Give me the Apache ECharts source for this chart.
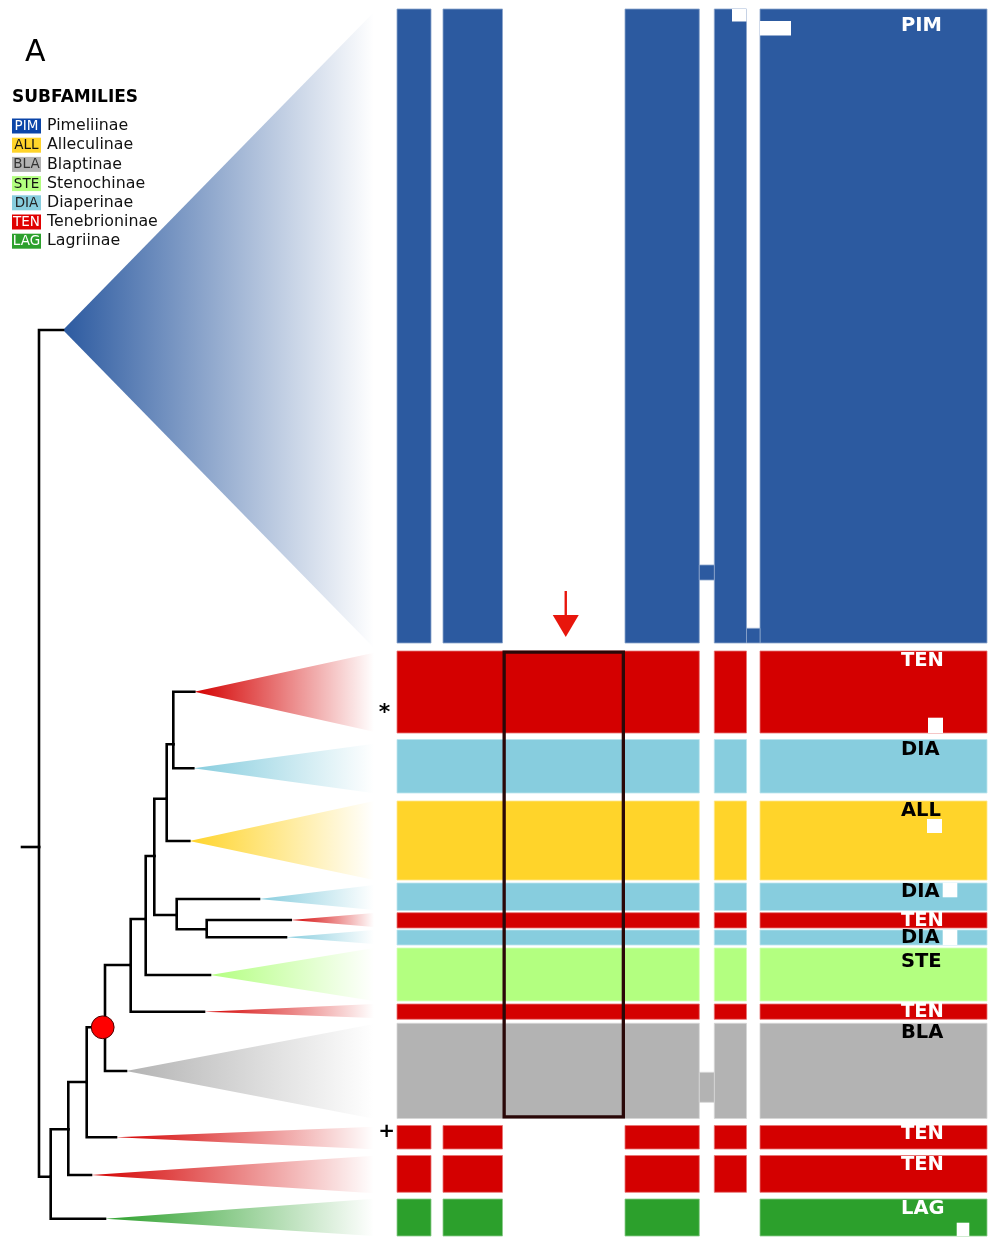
<!DOCTYPE html>
<html>
<head>
<meta charset="utf-8">
<script src="https://cdn.jsdelivr.net/npm/echarts@6/dist/echarts.min.js"></script>
<style>
  html, body { margin: 0; padding: 0; background: #ffffff; }
  #chart { width: 990px; height: 1237px; }
</style>
</head>
<body>
<div id="chart"></div>
<script>
// ---------------- data ----------------
// Subfamily legend
const subfamilyCodes = ['PIM', 'ALL', 'BLA', 'STE', 'DIA', 'TEN', 'LAG'];
const subfamilyNames = ['Pimeliinae', 'Alleculinae', 'Blaptinae', 'Stenochinae', 'Diaperinae', 'Tenebrioninae', 'Lagriinae'];

// Collapsed clades, top to bottom
const cladeCodes = ['PIM', 'TEN', 'DIA', 'ALL', 'DIA', 'TEN', 'DIA', 'STE', 'TEN', 'BLA', 'TEN', 'TEN', 'LAG'];
// Clade tip position (branch depth, vertical position)
const tipDepth = [63, 194.3, 193.3, 189.3, 259, 290.7, 286, 210, 204, 126, 116, 91, 105];
const tipY = [330, 691.7, 768.3, 841, 899, 920, 937.3, 975, 1011.7, 1071, 1137.3, 1175, 1218.7];
// Vertical extent of each collapsed clade (triangle base)
const spanTop = [12, 652.7, 743.7, 801, 885, 913, 930, 948, 1004, 1024, 1126.7, 1155.7, 1198.7];
const spanBottom = [648, 731.7, 793.3, 880, 910, 927, 944, 1001, 1018, 1118.7, 1149.3, 1193.3, 1236];
// Parent node of each clade
const tipParent = ['n0', 'n11', 'n11', 'n9', 'n8', 'n10', 'n10', 'n6', 'n5', 'n4', 'n3', 'n2', 'n1'];

// Internal nodes of the backbone
const nodeIds = ['root', 'n0', 'n1', 'n2', 'n3', 'n4', 'n5', 'n6', 'n7', 'n8', 'n9', 'n10', 'n11'];
const nodeDepth = [22, 39, 50.7, 68.3, 86.7, 105, 130.7, 145.7, 154.3, 176.7, 166.7, 206.7, 173.3];
const nodeY = [847, 847, 1176.7, 1129.3, 1082, 1027.3, 965, 919, 856, 915, 798.7, 929.3, 744.3];
const nodeParent = [null, 'root', 'n0', 'n1', 'n2', 'n3', 'n4', 'n5', 'n6', 'n7', 'n7', 'n8', 'n9'];
const supportedNodes = ['n4'];

// Matrix: column boundaries and row extents
const colEdges = [397, 431, 443, 502.5, 625, 699.3, 714.3, 746.5, 760, 987];
const rowTop = [9, 651, 739.5, 801, 883, 912.7, 930, 948, 1004, 1023.3, 1125.5, 1155.5, 1199];
const rowBottom = [643, 733, 793, 880, 910.5, 928, 945, 1001, 1019.3, 1118.5, 1149, 1192.3, 1236];
// Which column intervals are filled in each row
const rowPattern = [
  '101010101', '111110101', '111110101', '111110101', '111110101', '111110101', '111110101',
  '111110101', '111110101', '111110101', '101010101', '101010101', '101010001'
];
// Partly filled gap intervals: [row, interval, top, bottom]
const gapFills = [[0, 5, 565, 580], [0, 7, 628.3, 643], [9, 5, 1072.3, 1102.3]];
// Empty cells inside filled blocks: [row, x0, x1, y0, y1]
const holes = [
  [0, 732, 746.5, 9, 21.5], [0, 760, 791, 21, 35.5],
  [1, 928, 943, 717.7, 733], [3, 927, 942, 819, 833],
  [4, 942.7, 957.3, 882.7, 897.3], [6, 942.7, 957.3, 930, 945],
  [12, 956.7, 969.3, 1222.7, 1236]
];
// Highlighted block (column interval, first row, last row)
const highlight = [3, 1, 9];
// Clade annotations: [row, symbol]
const annotations = [[1, '*'], [10, '+']];

// ---------------- styles / layout ----------------
const FONT = '"DejaVu Sans", Verdana, sans-serif';
const colors = { PIM: '#2c5aa0', ALL: '#ffd42a', BLA: '#b3b3b3', STE: '#b3ff80', DIA: '#87cdde', TEN: '#d40000', LAG: '#2ca02c' };
const legendColors = { PIM: '#0b45a8', ALL: '#ffd42a', BLA: '#b3b3b3', STE: '#b3ff80', DIA: '#87cdde', TEN: '#e00000', LAG: '#2ca02c' };
const inkOn = { PIM: '#ffffff', TEN: '#ffffff', LAG: '#ffffff', ALL: '#000000', BLA: '#000000', STE: '#000000', DIA: '#000000' };
const legendInk = { PIM: '#ffffff', TEN: '#ffffff', LAG: '#ffffff', ALL: '#111111', BLA: '#333333', STE: '#111111', DIA: '#222222' };
const triangleRight = 374;
const labelX = 901;
const labelDrop = [16.5, 10.4, 10.4, 10.3, 9.3, 7.8, 8.3, 13.7, 8, 9.7, 8, 9, 9.7];
const annotationPos = { '*': [384.5, 713, 22], '+': [386.7, 1132, 20] };

function hexToRgb(h) {
  const n = parseInt(h.slice(1), 16);
  return [(n >> 16) & 255, (n >> 8) & 255, n & 255];
}
function lighten(h, t) {
  const c = hexToRgb(h).map(v => Math.round(v + (255 - v) * t));
  return 'rgb(' + c.join(',') + ')';
}

// ---------------- derived items ----------------
const allNodes = {};
nodeIds.forEach((id, i) => { allNodes[id] = { x: nodeDepth[i], y: nodeY[i] }; });

const edges = [];
nodeIds.forEach((id, i) => {
  if (nodeParent[i]) {
    const p = allNodes[nodeParent[i]];
    edges.push([p.x, p.y, nodeDepth[i], nodeY[i]]);
  }
});
cladeCodes.forEach((c, i) => {
  const p = allNodes[tipParent[i]];
  edges.push([p.x, p.y, tipDepth[i], tipY[i]]);
});

const triangles = cladeCodes.map((c, i) => [tipDepth[i], tipY[i], spanTop[i], spanBottom[i], i]);

const blocks = [];
rowPattern.forEach((pat, r) => {
  let start = -1;
  for (let k = 0; k <= pat.length; k++) {
    const on = k < pat.length && pat[k] === '1';
    if (on && start < 0) start = k;
    if (!on && start >= 0) {
      blocks.push([colEdges[start], colEdges[k], rowTop[r], rowBottom[r], r]);
      start = -1;
    }
  }
});
gapFills.forEach(g => blocks.push([colEdges[g[1]], colEdges[g[1] + 1], g[2], g[3], g[0]]));

const labels = cladeCodes.map((c, i) => [labelX, rowTop[i] + labelDrop[i], i]);
const supportPts = supportedNodes.map(id => [allNodes[id].x - 2.3, allNodes[id].y]);
const boxData = [[colEdges[highlight[0]], colEdges[highlight[0] + 1], rowTop[highlight[1]], rowBottom[highlight[2]]]];
const arrowData = [[(colEdges[highlight[0]] + colEdges[highlight[0] + 1]) / 2 + 2, 591, 637]];
const annoData = annotations.map(a => [annotationPos[a[1]][0], annotationPos[a[1]][1], a[1]]);

// ---------------- chart ----------------
const chart = echarts.init(document.getElementById('chart'), null, { renderer: 'canvas' });

const legendGraphic = [
  { type: 'text', x: 25, y: 53, style: { text: 'A', font: '30px ' + FONT, fill: '#000', textAlign: 'left', textVerticalAlign: 'middle', align: 'left', verticalAlign: 'middle' } },
  { type: 'text', x: 12, y: 97.5, style: { text: 'SUBFAMILIES', font: 'bold 17px ' + FONT, fill: '#000', textAlign: 'left', textVerticalAlign: 'middle', align: 'left', verticalAlign: 'middle' } }
];
subfamilyCodes.forEach((c, i) => {
  const cy = 126 + i * 19.2;
  legendGraphic.push({ type: 'rect', shape: { x: 12, y: cy - 7.5, width: 29, height: 15 }, style: { fill: legendColors[c] } });
  legendGraphic.push({ type: 'text', x: 26.5, y: cy + 0.5, style: { text: c, font: '13.5px ' + FONT, fill: legendInk[c], textAlign: 'center', textVerticalAlign: 'middle', align: 'center', verticalAlign: 'middle' } });
  legendGraphic.push({ type: 'text', x: 47, y: cy, style: { text: subfamilyNames[i], font: '15.8px ' + FONT, fill: '#111', textAlign: 'left', textVerticalAlign: 'middle', align: 'left', verticalAlign: 'middle' } });
});

function custom(data, renderItem, z) {
  return { type: 'custom', coordinateSystem: 'cartesian2d', data, renderItem, z: z || 2, silent: true, clip: false };
}

chart.setOption({
  animation: false,
  backgroundColor: '#ffffff',
  grid: { left: 0, right: 0, top: 0, bottom: 0 },
  xAxis: { type: 'value', min: 0, max: 990, show: false },
  yAxis: { type: 'value', min: 0, max: 1237, inverse: true, show: false },
  graphic: legendGraphic,
  series: [
    // collapsed clades
    custom(triangles, (params, api) => {
      const d = triangles[params.dataIndex];
      const code = cladeCodes[d[4]];
      const rgb = hexToRgb(colors[code]).join(',');
      const apex = api.coord([d[0], d[1]]);
      const t = api.coord([triangleRight, d[2]]);
      const b = api.coord([triangleRight, d[3]]);
      return {
        type: 'polygon',
        shape: { points: [apex, t, b] },
        style: {
          fill: new echarts.graphic.LinearGradient(0, 0, 1, 0, [
            { offset: 0, color: 'rgba(' + rgb + ',1)' },
            { offset: 1, color: 'rgba(' + rgb + ',0)' }
          ])
        }
      };
    }, 1),
    // tree branches
    custom(edges, (params, api) => {
      const e = edges[params.dataIndex];
      return {
        type: 'polyline',
        shape: { points: [api.coord([e[0], e[1]]), api.coord([e[0], e[3]]), api.coord([e[2], e[3]])] },
        style: { stroke: '#000', lineWidth: 2.6, fill: null, lineJoin: 'miter', lineCap: 'square' }
      };
    }, 3),
    // supported node
    custom(supportPts, (params, api) => {
      const p = api.coord(supportPts[params.dataIndex]);
      return { type: 'circle', shape: { cx: p[0], cy: p[1], r: 11.4 }, style: { fill: '#ff0000', stroke: '#4a0000', lineWidth: 1 } };
    }, 4),
    // matrix blocks
    custom(blocks, (params, api) => {
      const d = blocks[params.dataIndex];
      const p0 = api.coord([d[0], d[2]]);
      const p1 = api.coord([d[1], d[3]]);
      const col = colors[cladeCodes[d[4]]];
      return {
        type: 'rect',
        shape: { x: p0[0], y: p0[1], width: p1[0] - p0[0], height: p1[1] - p0[1] },
        style: { fill: col, stroke: lighten(col, 0.45), lineWidth: 0.8 }
      };
    }, 2),
    // empty cells
    custom(holes, (params, api) => {
      const d = holes[params.dataIndex];
      const p0 = api.coord([d[1], d[3]]);
      const p1 = api.coord([d[2], d[4]]);
      return { type: 'rect', shape: { x: p0[0], y: p0[1], width: p1[0] - p0[0], height: p1[1] - p0[1] }, style: { fill: '#ffffff' } };
    }, 3),
    // clade labels
    custom(labels, (params, api) => {
      const d = labels[params.dataIndex];
      const code = cladeCodes[d[2]];
      const p = api.coord([d[0], d[1]]);
      return {
        type: 'text', x: p[0], y: p[1],
        style: { text: code, font: 'bold 19.5px ' + FONT, fill: inkOn[code], textAlign: 'left', textVerticalAlign: 'middle', align: 'left', verticalAlign: 'middle' }
      };
    }, 5),
    // highlighted block
    custom(boxData, (params, api) => {
      const d = boxData[0];
      const p0 = api.coord([d[0], d[2]]);
      const p1 = api.coord([d[1], d[3]]);
      const lw = 3.3;
      return {
        type: 'rect',
        shape: { x: p0[0] + lw / 2, y: p0[1] + lw / 2 - 0.5, width: p1[0] - p0[0] - lw, height: p1[1] - p0[1] - lw + 0.5 },
        style: { fill: null, stroke: '#2a0808', lineWidth: lw }
      };
    }, 6),
    // arrow
    custom(arrowData, (params, api) => {
      const d = arrowData[0];
      const top = api.coord([d[0], d[1]]);
      const tip = api.coord([d[0], d[2]]);
      const headTop = tip[1] - 22;
      return {
        type: 'group',
        children: [
          { type: 'line', shape: { x1: top[0], y1: top[1], x2: tip[0], y2: headTop + 2 }, style: { stroke: '#e8160c', lineWidth: 2.4 } },
          { type: 'polygon', shape: { points: [[tip[0] - 13, headTop], [tip[0] + 13, headTop], [tip[0], tip[1]]] }, style: { fill: '#e8160c' } }
        ]
      };
    }, 6),
    // annotations
    custom(annoData, (params, api) => {
      const d = annoData[params.dataIndex];
      const p = api.coord([d[0], d[1]]);
      return {
        type: 'text', x: p[0], y: p[1],
        style: { text: d[2], font: 'bold ' + annotationPos[d[2]][2] + 'px ' + FONT, fill: '#000', textAlign: 'center', textVerticalAlign: 'middle', align: 'center', verticalAlign: 'middle' }
      };
    }, 6)
  ]
});
</script>
</body>
</html>
